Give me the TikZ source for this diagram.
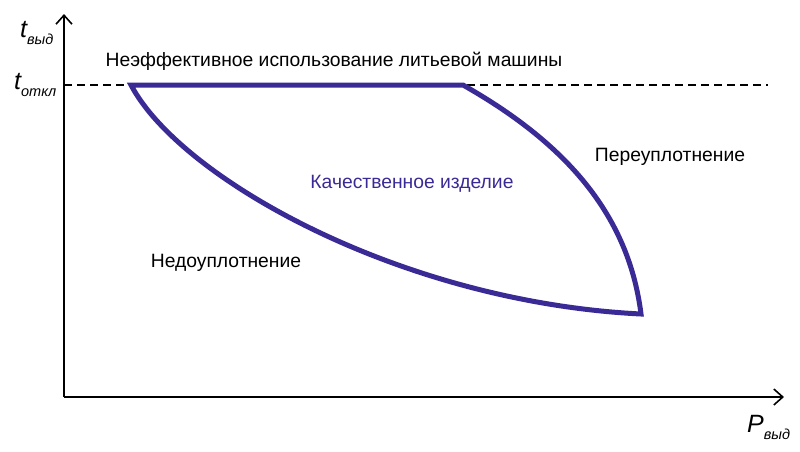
\documentclass[tikz,border=0pt]{standalone}
\usepackage{fontspec}
\setmainfont{Liberation Sans}
\usetikzlibrary{arrows.meta}
\definecolor{zoneblue}{RGB}{58,42,150}
\newcommand{\axlbl}[2]{\itshape\fontsize{25}{27}\selectfont #1\raisebox{-0.55ex}{\fontsize{14.5}{15}\selectfont #2}}
\tikzset{
  axis/.style={line width=1.6pt, -{Straight Barb[length=9pt,width=16pt,line width=1.6pt]}},
  zone/.style={line width=5pt, color=zoneblue, line join=miter},
  txt/.style={font=\fontsize{19.3}{23}\selectfont, inner sep=0pt}
}
\begin{document}
\begin{tikzpicture}[x=1pt, y=-1pt]
    \useasboundingbox (0,0) rectangle (800,451);
    % axes
    \coordinate (O) at (64,397);
    \coordinate (xend) at (784,397);
    \coordinate (yend) at (64,14);
    \draw[axis] (O) -- (xend);
    \draw[axis] (O) -- (yend);
    % switch-off time level
    \coordinate (toff) at (64,85);
    \coordinate (toffend) at (768,85);
    \draw[line width=1.2pt, dash pattern=on 8pt off 5pt] (toff) -- (toffend);
    % region of good parts
    \coordinate (a) at (131,85);
    \coordinate (b) at (463,85);
    \coordinate (c) at (641,314);
    \draw[zone] (a) -- (b) .. controls (560,140) and (628,210) .. (c)
        .. controls (400,302) and (180,178) .. cycle;
    % labels
    \node[anchor=base west, inner sep=0pt] (tvyd) at (20,37) {\axlbl{t}{выд}};
    \node[anchor=base west, inner sep=0pt] (totkl) at (14,89) {\axlbl{t}{откл}};
    \node[anchor=base west, inner sep=0pt] (pvyd) at (747,432) {\axlbl{P}{выд}};
    \node[txt] (ineff) at (334,61) {Неэффективное использование литьевой машины};
    \node[txt] (over) at (670,157) {Переуплотнение};
    \node[txt, text=zoneblue] (good) at (412,184) {Качественное изделие};
    \node[txt] (under) at (226,263) {Недоуплотнение};
\end{tikzpicture}
\end{document}
